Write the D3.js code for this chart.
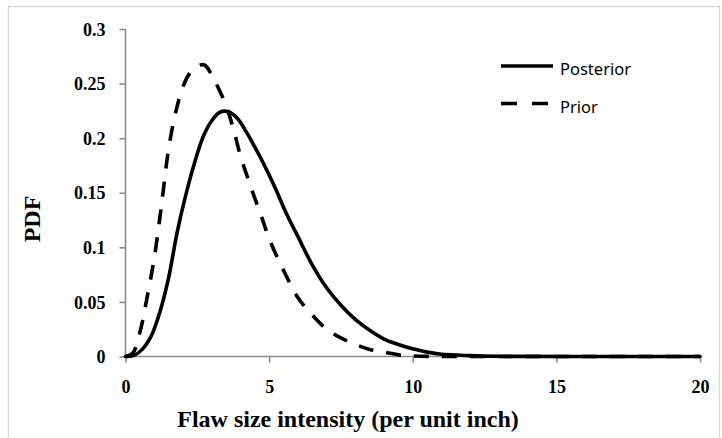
<!DOCTYPE html>
<html>
<head>
<meta charset="utf-8">
<script src="https://cdn.jsdelivr.net/npm/d3@7/dist/d3.min.js"></script>
<style>
  html, body { margin: 0; padding: 0; background: #fff; }
  svg { display: block; }
</style>
</head>
<body>
<svg id="chart" width="722" height="438"></svg>
<script>
// ---- data ----
const posteriorX = [0, 0.3, 0.6, 0.9, 1.2, 1.5, 1.8, 2.1, 2.4, 2.7, 3.0, 3.3, 3.6, 3.9, 4.2, 4.5, 4.8, 5.2, 5.6, 6.0, 6.5, 7.0, 7.5, 8.0, 8.5, 9.0, 9.5, 10, 10.5, 11, 12, 13, 14, 16, 18, 20];
const posteriorY = [0, 0.001, 0.007, 0.019, 0.041, 0.072, 0.114, 0.148, 0.177, 0.201, 0.216, 0.224, 0.224, 0.218, 0.206, 0.192, 0.177, 0.155, 0.131, 0.110, 0.084, 0.063, 0.047, 0.034, 0.024, 0.016, 0.011, 0.007, 0.004, 0.002, 0.0008, 0.0002, 0.0001, 0, 0, 0];

const priorX = [0, 0.25, 0.5, 0.75, 1.0, 1.25, 1.5, 1.75, 2.0, 2.25, 2.5, 2.75, 3.0, 3.25, 3.5, 3.75, 4.0, 4.25, 4.5, 4.75, 5.0, 5.5, 6.0, 6.5, 7.0, 7.5, 8.0, 8.5, 9.0, 9.5, 10, 11, 12, 13, 16, 20];
const priorY = [0, 0.003, 0.022, 0.054, 0.090, 0.138, 0.190, 0.224, 0.247, 0.260, 0.266, 0.267, 0.258, 0.245, 0.230, 0.209, 0.184, 0.164, 0.145, 0.127, 0.108, 0.079, 0.054, 0.038, 0.025, 0.017, 0.011, 0.0065, 0.004, 0.0015, 0.0005, 0, 0, 0, 0, 0];

const xTicks = [0, 5, 10, 15, 20];
const yTicks = [0, 0.05, 0.1, 0.15, 0.2, 0.25, 0.3];
const yTickLabels = ["0", "0.05", "0.1", "0.15", "0.2", "0.25", "0.3"];
const seriesNames = ["Posterior", "Prior"];
const xTitle = "Flaw size intensity (per unit inch)";
const yTitle = "PDF";

// ---- layout ----
const svg = d3.select("#chart");
const plotLeft = 125.5, plotRight = 700, plotTop = 29, plotBottom = 356.5;
const axisColor = "#8c8c8c";
const serif = "'Liberation Serif', 'Times New Roman', serif";

const x = d3.scaleLinear().domain([0, 20]).range([plotLeft, plotRight]);
const y = d3.scaleLinear().domain([0, 0.3]).range([plotBottom, plotTop]);

// outer border
svg.append("rect")
  .attr("x", 8.5).attr("y", 6.5).attr("width", 711).attr("height", 445)
  .attr("fill", "none").attr("stroke", "#d9d9d9").attr("stroke-width", 1.5);

// y axis
const yAxis = svg.append("g").attr("transform", `translate(${plotLeft},0)`)
  .call(d3.axisLeft(y).tickValues(yTicks).tickSize(6).tickPadding(14)
    .tickFormat((d, i) => yTickLabels[i]));
yAxis.select(".domain").attr("stroke", axisColor).attr("stroke-width", 1.6)
  .attr("d", `M0,${plotTop}V${plotBottom}`);
yAxis.selectAll(".tick line").attr("stroke", axisColor).attr("stroke-width", 1.6);
yAxis.selectAll(".tick text")
  .attr("font-family", serif).attr("font-weight", "bold")
  .attr("font-size", 18).attr("fill", "#000").attr("dy", "0.34em");

// x axis
const xAxis = svg.append("g").attr("transform", `translate(0,${plotBottom})`)
  .call(d3.axisBottom(x).tickValues(xTicks).tickSize(6).tickPadding(20));
xAxis.select(".domain").attr("stroke", axisColor).attr("stroke-width", 1.6)
  .attr("d", `M${plotLeft},0H${plotRight}`);
xAxis.selectAll(".tick line").attr("stroke", axisColor).attr("stroke-width", 1.6);
xAxis.selectAll(".tick text")
  .attr("font-family", serif).attr("font-weight", "bold")
  .attr("font-size", 18).attr("fill", "#000").attr("dy", "0.6em");

// lines
const line = d3.line().x(d => x(d[0])).y(d => y(d[1])).curve(d3.curveCatmullRom.alpha(0.5));
const post = posteriorX.map((v, i) => [v, posteriorY[i]]);
const prior = priorX.map((v, i) => [v, priorY[i]]);

svg.append("path").datum(prior)
  .attr("d", line).attr("fill", "none").attr("stroke", "#000")
  .attr("stroke-width", 3.6).attr("stroke-dasharray", "15,13")
  .attr("stroke-linejoin", "round");
svg.append("path").datum(post)
  .attr("d", line).attr("fill", "none").attr("stroke", "#000")
  .attr("stroke-width", 3.6).attr("stroke-linejoin", "round").attr("stroke-linecap", "round");

// titles
svg.append("text").text(xTitle)
  .attr("x", 348).attr("y", 427).attr("text-anchor", "middle")
  .attr("font-family", serif).attr("font-weight", "bold").attr("font-size", 24).attr("fill", "#000");
svg.append("text").text(yTitle)
  .attr("transform", "translate(40,219) rotate(-90)").attr("text-anchor", "middle")
  .attr("font-family", serif).attr("font-weight", "bold").attr("font-size", 24).attr("fill", "#000");

// legend
const legend = svg.append("g");
const legY = [66, 103.5];
seriesNames.forEach((name, i) => {
  legend.append("line")
    .attr("x1", 501).attr("x2", 553).attr("y1", legY[i]).attr("y2", legY[i])
    .attr("stroke", "#000").attr("stroke-width", 3.6)
    .attr("stroke-dasharray", i === 1 ? "16,15" : null);
  legend.append("text").text(name)
    .attr("x", 560).attr("y", legY[i] + 9)
    .attr("font-family", "'Noto Sans', 'Open Sans', sans-serif").attr("font-size", 16.5).attr("fill", "#000");
});
</script>
</body>
</html>
